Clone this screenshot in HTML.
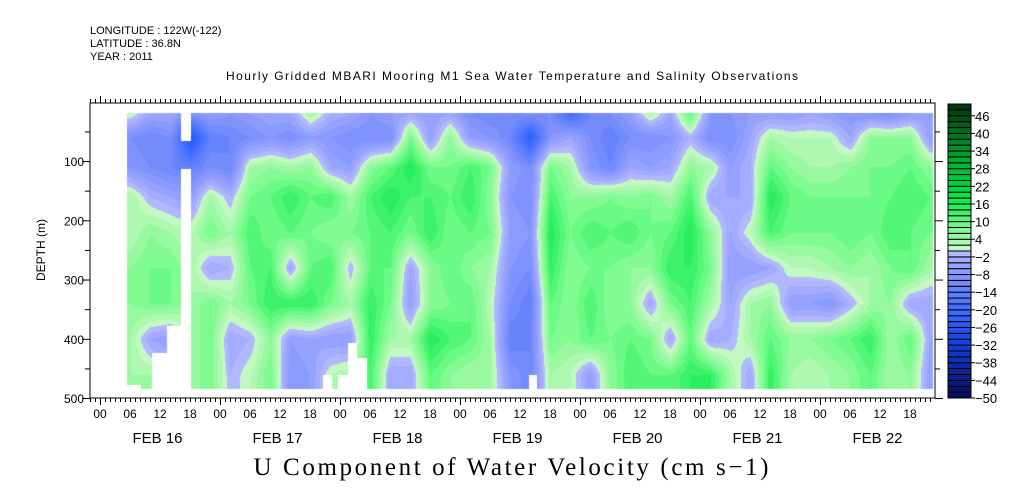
<!DOCTYPE html>
<html><head><meta charset="utf-8"><style>
html,body{margin:0;padding:0;background:#fff;width:1009px;height:504px;overflow:hidden}
#hm{position:absolute;left:0;top:0}
svg{position:absolute;left:0;top:0}
text{font-family:"Liberation Sans",sans-serif;fill:#000}
</style></head><body>
<canvas id="hm" width="1009" height="504"></canvas>
<svg id="ov" width="1009" height="504">
<text x="90" y="34" font-size="11">LONGITUDE : 122W(-122)</text>
<text x="90" y="47" font-size="11">LATITUDE : 36.8N</text>
<text x="90" y="60" font-size="11">YEAR : 2011</text>
<text x="512" y="80" font-size="12" text-anchor="middle" textLength="572">Hourly Gridded MBARI Mooring M1 Sea Water Temperature and Salinity Observations</text>
<text x="511" y="475" font-size="25" text-anchor="middle" textLength="515" style="font-family:'Liberation Serif',serif">U Component of Water Velocity (cm s−1)</text>
<text transform="translate(45,250) rotate(-90)" font-size="12" text-anchor="middle">DEPTH (m)</text>
<g id="axes"></g>
</svg>
<script>
// time (hours from FEB 16 00) of each data column
const hours = [6,10,14,18,22,26,30,34,38,42,46,50,54,58,62,66,70,74,78,82,86,90,94,98,102,106,110,114,118,122,126,130,134,138,142,146,150,154,158,162,166];
const depths = [20,60,110,160,220,280,340,400,460];
const values = [
[2,-10,-8,4,2,6,6,4,4],[-4,-12,-10,-2,6,8,8,-4,4],[-4,-10,-12,-4,4,8,8,-6,0],[-10,-26,-14,-6,2,4,4,4,4],
[-6,-14,-10,4,8,-4,8,8,8],[-8,-12,-12,-2,4,-2,4,-4,-2],[-6,-10,4,8,12,10,8,-2,2],[-4,-8,6,10,8,12,14,6,8],
[-4,-10,4,14,10,-4,14,-6,-8],[4,-6,6,10,8,10,14,-4,-6],[-2,-8,-4,12,6,12,8,-6,2],[-4,-10,-6,4,8,-2,4,-6,4],
[-8,-10,6,12,10,10,14,14,12],[-6,-10,10,16,12,10,8,4,-4],[-4,8,16,12,8,-4,-6,4,-4],[-6,-6,8,12,14,6,6,16,10],
[-4,6,8,10,8,10,8,12,6],[-10,-6,12,14,10,6,10,10,4],[-12,-8,8,6,8,4,2,4,4],[-10,-12,-6,-8,-6,-8,-10,-14,-8],
[-10,-24,-10,-10,-8,-10,-14,-12,-12],[-10,-8,8,12,16,14,10,8,4],[-20,-4,4,6,8,6,6,6,2],[-12,-10,-8,6,12,8,12,10,-6],
[-10,-14,-12,8,10,8,6,8,6],[-6,-10,-4,6,12,6,6,10,12],[4,-10,-6,8,8,6,-4,8,10],[-4,-8,-4,4,10,14,8,-4,10],
[10,-2,6,12,16,14,12,10,14],[-8,-10,4,-4,6,8,4,-4,14],[-8,-10,-6,-4,-4,-6,-4,-2,4],[-6,-4,-2,-4,2,-6,4,4,-4],
[-6,4,10,16,12,-4,6,10,14],[-6,2,6,10,8,2,-6,6,4],[-4,2,4,8,8,2,-6,6,2],[-6,2,4,8,8,4,-8,8,4],
[-8,-4,6,8,10,6,-2,10,6],[-8,6,8,8,8,4,4,14,10],[-10,6,8,10,12,8,6,4,4],[-6,6,10,12,10,10,-4,10,6],
[-6,-6,6,10,8,4,-4,-4,-6]];
// missing-data blocks: [startHour,endHour,startDepth,endDepth]
const gaps = [[5.4,8.2,477,500],[10.4,13.4,423,500],[13.4,16.2,378,500],[16.2,18.2,0,65],[16.2,18.2,113,500],
[44.6,46.4,461,500],[47.6,49.6,461,500],[49.6,51.4,407,500],[51.4,53.4,432,500],[85.8,87.4,461,500]];
const cbLabels = [-50,-44,-38,-32,-26,-20,-14,-8,-2,4,10,16,22,28,34,40,46];
const dayLabels = ["FEB 16","FEB 17","FEB 18","FEB 19","FEB 20","FEB 21","FEB 22"];

const X0=90,X1=935,Y0=103,Y1=398;
const xs=h=>100+5*h;
const ys=d=>101.8+0.5925*d;
const hOf=x=>(x-100)/5, dOf=y=>(y-101.8)/0.5925;
const anchors=[[-50,[10,10,90]],[-40,[12,40,160]],[-30,[20,70,235]],[-20,[60,108,255]],[-10,[122,142,252]],[-4,[156,166,255]],[-1,[178,184,255]],[1,[194,248,194]],[4,[164,248,168]],[8,[118,252,140]],[14,[50,240,100]],[20,[0,225,64]],[30,[0,176,48]],[40,[0,112,32]],[50,[0,48,16]]];
function col(v){v=Math.max(-49.9,Math.min(49.9,v));for(let i=0;i<anchors.length-1;i++){const a=anchors[i],b=anchors[i+1];if(v<=b[0]){const t=(v-a[0])/(b[0]-a[0]);return a[1].map((c,k)=>Math.round(c+(b[1][k]-c)*t));}}return anchors[anchors.length-1][1];}
function lvl(v){const l=Math.floor(v/2)*2;return col(l+1);}
function interp(arr,v){if(v<=arr[0])return[0,0,0];if(v>=arr[arr.length-1])return[arr.length-1,arr.length-1,0];for(let i=0;i<arr.length-1;i++)if(v<=arr[i+1])return[i,i+1,(v-arr[i])/(arr[i+1]-arr[i])];}
const cv=document.getElementById('hm'),ctx=cv.getContext('2d');
const dx0=Math.round(xs(5.4)),dx1=933,dy0=113,dy1=389;
const img=ctx.createImageData(dx1-dx0,dy1-dy0);
for(let y=dy0;y<dy1;y++){const d=dOf(y);const[j0,j1,tj]=interp(depths,d);
 for(let x=dx0;x<dx1;x++){const h=hOf(x);let gap=false;
  for(const g of gaps){if(h>=g[0]&&h<g[1]&&d>=g[2]&&d<g[3]){gap=true;break;}}
  const p=((y-dy0)*(dx1-dx0)+(x-dx0))*4;
  if(gap){img.data[p]=img.data[p+1]=img.data[p+2]=255;img.data[p+3]=255;continue;}
  const[i0,i1,ti]=interp(hours,h);
  const v=(values[i0][j0]*(1-tj)+values[i0][j1]*tj)*(1-ti)+(values[i1][j0]*(1-tj)+values[i1][j1]*tj)*ti;
  const c=lvl(v);img.data[p]=c[0];img.data[p+1]=c[1];img.data[p+2]=c[2];img.data[p+3]=255;}}
ctx.putImageData(img,dx0,dy0);

const NS='http://www.w3.org/2000/svg',ax=document.getElementById('axes');
function el(t,a,p){const e=document.createElementNS(NS,t);for(const k in a)e.setAttribute(k,a[k]);(p||ax).appendChild(e);return e;}
const fr=el('rect',{x:X0,y:Y0,width:X1-X0,height:Y1-Y0,fill:'none',stroke:'#000','stroke-width':1});


for(let h=-2;h<=167;h++){const x=xs(h)+0.5;if(x<X0||x>X1)continue;const L=(h%24===0)?7:4;
 el('line',{x1:x,x2:x,y1:Y1,y2:Y1+L,stroke:'#000'});el('line',{x1:x,x2:x,y1:Y0,y2:Y0-L,stroke:'#000'});
 if(h%6===0&&h>=0){const hh=((h%24)+'').padStart(2,'0');const t=el('text',{x:xs(h),y:418,'font-size':12,'text-anchor':'middle'});t.textContent=hh;
  
  }}
dayLabels.forEach((s,i)=>{const t=el('text',{x:xs(24*i+11.5),y:443,'font-size':15,'text-anchor':'middle'});t.textContent=s;
 
 });
for(let d=50;d<=500;d+=50){const y=ys(d)+0.5;const L=d%100===0?8:5;
 el('line',{x1:X0-L,x2:X0,y1:y,y2:y,stroke:'#000'});el('line',{x1:X1,x2:X1+L,y1:y,y2:y,stroke:'#000'});
 if(d%100===0){const t=el('text',{x:84,y:ys(d)+5,'font-size':12,'text-anchor':'end'});t.textContent=d;
  
  }}
const CB0=104,CB1=398,cbx=948,cbw=23,bh=(CB1-CB0)/50;
for(let k=0;k<50;k++){const v=-50+2*k;const c=col(v+1);
 const r=el('rect',{x:cbx,y:CB1-(k+1)*bh,width:cbw,height:bh,fill:`rgb(${c})`,stroke:'#000','stroke-width':1});
 
 }
cbLabels.forEach(v=>{const y=CB1-(v+50)/2*bh;el('line',{x1:cbx+cbw,x2:cbx+cbw+4,y1:y,y2:y,stroke:'#000'});
 const t=el('text',{x:975,y:y+5,'font-size':13});t.textContent=v<0?'−'+(-v):v;
 
 });
</script>
</body></html>
